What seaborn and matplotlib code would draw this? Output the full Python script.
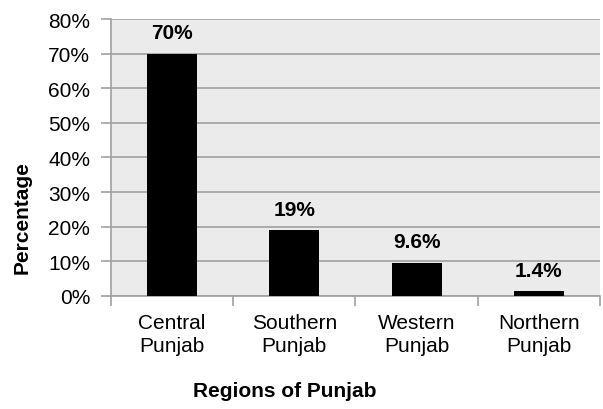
import matplotlib
matplotlib.use("Agg")
import matplotlib.pyplot as plt
import seaborn as sns
import pandas as pd
from matplotlib.ticker import FixedLocator, FuncFormatter

categories = ["Central\nPunjab", "Southern\nPunjab", "Western\nPunjab", "Northern\nPunjab"]
values = [70, 19, 9.6, 1.4]
labels = ["70%", "19%", "9.6%", "1.4%"]

sns.set_theme(style="white")
plt.rcParams['font.family'] = ['Liberation Sans', 'DejaVu Sans']
plt.rcParams['text.color'] = 'black'
plt.rcParams['xtick.color'] = 'black'
plt.rcParams['ytick.color'] = 'black'
plt.rcParams['axes.labelcolor'] = 'black'

df = pd.DataFrame({"region": categories, "pct": values})

fig = plt.figure(figsize=(6.03, 4.10), dpi=100)
ax = fig.add_axes([0.184, 0.276, 0.811, 0.675])
ax.set_facecolor("#ebebeb")

sns.barplot(data=df, x="region", y="pct", color="black", width=0.41,
            saturation=1, linewidth=0, ax=ax, zorder=3)

ax.set_ylim(0, 80)
ax.set_xlim(-0.5, 3.5)
ax.yaxis.set_major_locator(FixedLocator(range(0, 81, 10)))
ax.yaxis.set_major_formatter(FuncFormatter(lambda v, p: f"{int(v)}%"))
ax.grid(axis="y", color="#a0a0a0", linewidth=1.2, zorder=1)
ax.set_axisbelow(True)

for s in ["top", "right"]:
    ax.spines[s].set_visible(False)
for s in ["left", "bottom"]:
    ax.spines[s].set_color("#a0a0a0")
    ax.spines[s].set_linewidth(1.2)

ax.tick_params(axis="y", which="major", length=7, width=1.2, color="#a0a0a0",
               labelcolor="black", labelsize=15, pad=8, left=True)
ax.tick_params(axis="x", which="major", length=0, labelsize=15, pad=12,
               labelcolor="black")
ax.set_xticks([-0.5, 0.5, 1.5, 2.5, 3.5], minor=True)
ax.tick_params(axis="x", which="minor", length=7, width=1.2, color="#a0a0a0", bottom=True)
for t in ax.get_xticklabels():
    t.set_linespacing(1.3)

for i, (v, lab) in enumerate(zip(values, labels)):
    ax.annotate(lab, (i, v), xytext=(0, 11), textcoords="offset points",
                ha="center", va="baseline", fontsize=15, fontweight="bold",
                color="black", zorder=4)

ax.set_xlabel("")
ax.set_ylabel("")
fig.text(285 / 603, 1 - 397 / 410, "Regions of Punjab", ha="center", va="baseline",
         fontsize=15, fontweight="bold", color="black")
fig.text(22 / 603, 1 - 218 / 410, "Percentage", ha="center", va="center",
         rotation=90, fontsize=15, fontweight="bold", color="black")

fig.savefig("out.png", dpi=100)
